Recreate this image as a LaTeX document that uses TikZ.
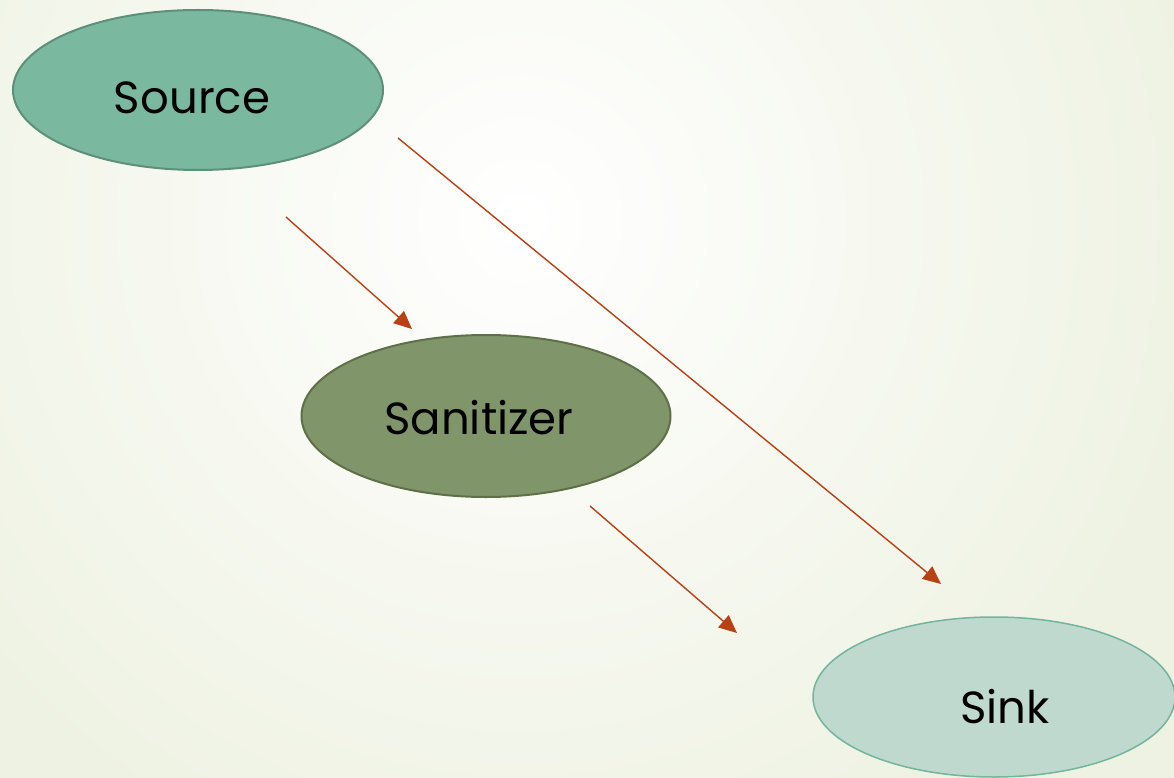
\documentclass[tikz,border=0pt]{standalone}
\usepackage{fontspec}
\setmainfont{Poppins}
\usetikzlibrary{shapes.geometric,arrows.meta}
\definecolor{bgedge}{RGB}{238,242,226}
\definecolor{srcfill}{RGB}{122,184,160}
\definecolor{srcdraw}{RGB}{94,143,122}
\definecolor{sanfill}{RGB}{129,149,106}
\definecolor{sandraw}{RGB}{95,112,72}
\definecolor{sinkfill}{RGB}{192,217,207}
\definecolor{sinkdraw}{RGB}{114,180,156}
\definecolor{arr}{RGB}{183,65,20}
\tikzset{
  blob/.style={ellipse, inner sep=0pt, line width=2pt},
  lbl/.style={font=\fontsize{45}{54}\selectfont, text=black, inner sep=0pt},
  flow/.style={draw=arr, line width=1.4pt, -{Triangle[length=18pt,width=16pt]}}
}
\begin{document}
\begin{tikzpicture}[x=1pt,y=-1pt]
\useasboundingbox (0,0) rectangle (1174,778);
\begin{scope}
\clip (0,0) rectangle (1174,778);
\fill[bgedge] (0,0) rectangle (1174,778);
\shade[inner color=white, outer color=bgedge] (520,220) circle (700);
\end{scope}
\node[blob, fill=srcfill, draw=srcdraw, minimum width=370pt, minimum height=160pt] (source) at (198,90) {};
\node[lbl] (sourcet) at (192,98) {Source};
\node[blob, fill=sanfill, draw=sandraw, minimum width=369pt, minimum height=162pt] (sanitizer) at (486,416) {};
\node[lbl] (sanitizert) at (479,418) {Sanitizer};
\node[blob, fill=sinkfill, draw=sinkdraw, line width=1.5pt, minimum width=362pt, minimum height=160pt] (sink) at (994,697) {};
\node[lbl] (sinkt) at (1005,707) {Sink};
\coordinate (a1) at (286,217);
\coordinate (b1) at (412,329);
\coordinate (a2) at (398,138);
\coordinate (b2) at (941,584);
\coordinate (a3) at (590,506);
\coordinate (b3) at (737,633);
\draw[flow] (a1) -- (b1);
\draw[flow] (a2) -- (b2);
\draw[flow] (a3) -- (b3);
\end{tikzpicture}
\end{document}
